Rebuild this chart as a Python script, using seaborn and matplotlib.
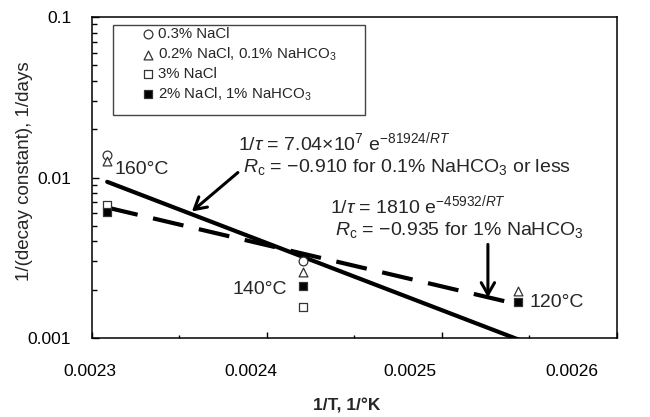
import matplotlib
matplotlib.use("Agg")
import matplotlib.pyplot as plt
import matplotlib.ticker as mticker
from matplotlib.patches import Rectangle
from matplotlib.transforms import ScaledTranslation
import pandas as pd
import seaborn as sns

# 1/T positions (1/K) for 160, 140, 120 degC
X_160 = 0.0023087
X_140 = 0.0024204
X_120 = 0.0025436

SERIES = [
    "0.3% NaCl",
    "0.2% NaCl, 0.1% NaHCO$_3$",
    "3% NaCl",
    "2% NaCl, 1% NaHCO$_3$",
]
X_CIRCLE = [X_160, X_140]
Y_CIRCLE = [0.0139, 0.00304]
X_TRIANGLE = [X_160, X_140, X_120]
Y_TRIANGLE = [0.01276, 0.00256, 0.00195]
X_OPEN_SQ = [X_160, X_140]
Y_OPEN_SQ = [0.00679, 0.00155]
X_FILLED_SQ = [X_160, X_140, X_120]
Y_FILLED_SQ = [0.00614, 0.00212, 0.00167]

# fitted lines (end points)
FIT_X = [X_160, X_120]
FIT_SOLID_Y = [0.0094, 0.00098]
FIT_DASHED_Y = [0.0065, 0.00162]

X_TICKS = [0.0023, 0.0024, 0.0025, 0.0026]
X_TICK_LABELS = ["0.0023", "0.0024", "0.0025", "0.0026"]
Y_TICKS = [0.001, 0.01, 0.1]
Y_TICK_LABELS = ["0.001", "0.01", "0.1"]

sns.set_theme(style="ticks")
plt.rcParams["font.family"] = ["Liberation Sans", "DejaVu Sans"]
plt.rcParams["mathtext.fontset"] = "custom"
plt.rcParams["mathtext.rm"] = "Liberation Sans"
plt.rcParams["mathtext.it"] = "Liberation Sans:italic"
plt.rcParams["mathtext.bf"] = "Liberation Sans:bold"

points = pd.concat(
    [
        pd.DataFrame({"x": X_CIRCLE, "y": Y_CIRCLE, "series": SERIES[0]}),
        pd.DataFrame({"x": X_TRIANGLE, "y": Y_TRIANGLE, "series": SERIES[1]}),
        pd.DataFrame({"x": X_OPEN_SQ, "y": Y_OPEN_SQ, "series": SERIES[2]}),
        pd.DataFrame({"x": X_FILLED_SQ, "y": Y_FILLED_SQ, "series": SERIES[3]}),
    ],
    ignore_index=True,
)
fits = pd.concat(
    [
        pd.DataFrame({"x": FIT_X, "y": FIT_SOLID_Y, "fit": "low"}),
        pd.DataFrame({"x": FIT_X, "y": FIT_DASHED_Y, "fit": "high"}),
    ],
    ignore_index=True,
)

fig = plt.figure(figsize=(6.5, 4.17), dpi=100)
ax = fig.add_axes([0.1415, 0.1894, 0.8075, 0.7698])

sns.lineplot(
    data=fits, x="x", y="y", style="fit", dashes={"low": "", "high": (7.5, 3.8)},
    color="black", linewidth=3.0, legend=False, ax=ax, sort=False,
)

marker_map = {SERIES[0]: "o", SERIES[1]: "^", SERIES[2]: "s", SERIES[3]: "s"}
face_map = {SERIES[0]: "white", SERIES[1]: "white", SERIES[2]: "white", SERIES[3]: "black"}
for name in SERIES:
    sub = points[points["series"] == name]
    sns.scatterplot(
        data=sub, x="x", y="y", marker=marker_map[name], s=40,
        facecolor=face_map[name], edgecolor="#333333", linewidth=0.9,
        label=name, ax=ax, zorder=4,
    )

ax.set_yscale("log")
ax.set_xlim(0.0023, 0.0026)
ax.set_ylim(0.001, 0.1)
ax.set_xticks(X_TICKS)
ax.set_xticklabels(X_TICK_LABELS)
ax.xaxis.set_minor_locator(mticker.MultipleLocator(0.00005))
ax.set_yticks(Y_TICKS)
ax.set_yticklabels(Y_TICK_LABELS)
ax.yaxis.set_minor_locator(mticker.LogLocator(base=10, subs=range(2, 10)))
ax.yaxis.set_minor_formatter(mticker.NullFormatter())

ax.tick_params(axis="both", which="both", direction="in", colors="black", labelsize=12.5)
ax.tick_params(axis="x", which="major", length=4, width=1, pad=19)
ax.tick_params(axis="x", which="minor", length=2.5, width=1)
ax.tick_params(axis="y", which="major", length=5, width=1, pad=15)
ax.tick_params(axis="y", which="minor", length=3.5, width=1)
for side in ["left", "right", "top", "bottom"]:
    ax.spines[side].set_visible(True)
    ax.spines[side].set_color("black")
    ax.spines[side].set_linewidth(1.1)

# the reference has its x tick labels drifting left of their ticks
for i, tick in enumerate(ax.xaxis.get_major_ticks()):
    shift = [-0.02, -0.16, -0.32, -0.45][i]
    tick.label1.set_transform(tick.label1.get_transform() + ScaledTranslation(shift, 0, fig.dpi_scale_trans))

ax.set_xlabel("1/T, 1/°K", fontsize=12.5, fontweight="bold")
ax.set_ylabel("1/(decay constant), 1/days", fontsize=13.5)
ax.xaxis.set_label_coords(0.486, -0.187)
ax.yaxis.set_label_coords(-0.112, 0.52)

ax.add_patch(Rectangle((0.040, 0.695), 0.480, 0.280, transform=ax.transAxes,
                       facecolor="white", edgecolor="#444444", linewidth=1.0, zorder=5))
leg = ax.legend(loc="upper left", bbox_to_anchor=(0.096, 0.968), frameon=False,
                fontsize=10.8, handlelength=0.8, handletextpad=0.25, labelspacing=0.28,
                borderpad=0, borderaxespad=0)
leg.set_zorder(6)

ax.text(X_160 + 0.0000044, 0.0112, "160°C", fontsize=14, ha="left", va="center")
ax.text(0.0024114, 0.00201, "140°C", fontsize=14, ha="right", va="center")
ax.text(0.0025503, 0.00167, "120°C", fontsize=14, ha="left", va="center")

ax.text(0.278, 0.611, r"1/$\tau$ = 7.04×10$^{7}$ e$^{-81924/RT}$", transform=ax.transAxes,
        fontsize=14, ha="left", va="center")
ax.text(0.288, 0.533, r"$R_{\mathrm{c}}$ = $-$0.910 for 0.1% NaHCO$_3$ or less", transform=ax.transAxes,
        fontsize=14, ha="left", va="center")
ax.text(0.453, 0.414, r"1/$\tau$ = 1810 e$^{-45932/RT}$", transform=ax.transAxes,
        fontsize=14, ha="left", va="center")
ax.text(0.463, 0.336, r"$R_{\mathrm{c}}$ = $-$0.935 for 1% NaHCO$_3$", transform=ax.transAxes,
        fontsize=14, ha="left", va="center")

arrow = dict(arrowstyle="->,head_length=0.7,head_width=0.4", lw=2.2, color="black", shrinkA=0, shrinkB=0)
ax.annotate("", xy=(0.0023571, 0.00614), xytext=(0.0023834, 0.01074), arrowprops=arrow)
ax.annotate("", xy=(0.0025263, 0.00179), xytext=(0.0025263, 0.00383), arrowprops=arrow)

fig.savefig("out.png", dpi=100)
